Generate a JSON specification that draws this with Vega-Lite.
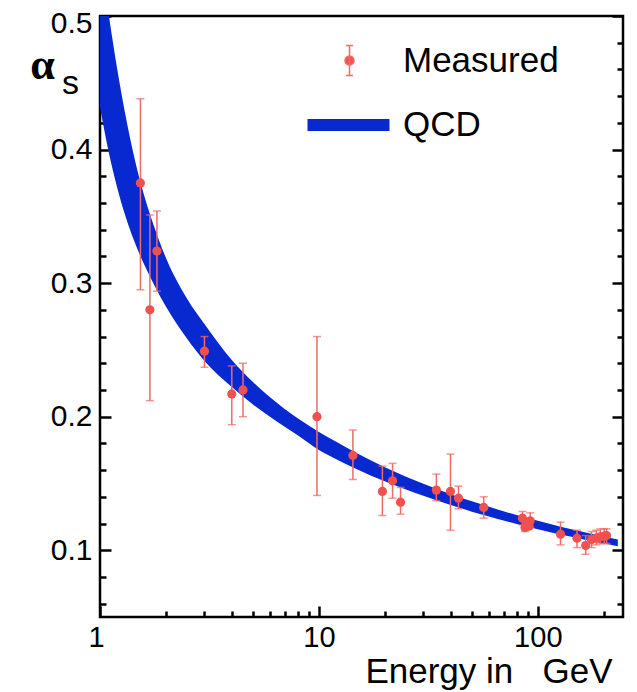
{
  "$schema": "https://vega.github.io/schema/vega-lite/v6.json",
  "width": 523,
  "height": 601,
  "autosize": "none",
  "padding": {"left": 100, "top": 16, "right": 14, "bottom": 75},
  "background": "white",
  "config": {"view": {"stroke": "black", "strokeWidth": 2.5}, "font": "Liberation Sans"},
  "datasets": {
    "band": [
      {"E": 1, "lo": 0.4316, "hi": 0.549},
      {"E": 1.1, "lo": 0.3968, "hi": 0.4995},
      {"E": 1.2, "lo": 0.3711, "hi": 0.4598},
      {"E": 1.3, "lo": 0.3513, "hi": 0.4278},
      {"E": 1.4, "lo": 0.3358, "hi": 0.402},
      {"E": 1.5, "lo": 0.3235, "hi": 0.381},
      {"E": 1.6, "lo": 0.3131, "hi": 0.3642},
      {"E": 1.8, "lo": 0.2962, "hi": 0.3386},
      {"E": 2, "lo": 0.2825, "hi": 0.3189},
      {"E": 2.5, "lo": 0.2583, "hi": 0.2883},
      {"E": 3, "lo": 0.2417, "hi": 0.2693},
      {"E": 4, "lo": 0.2223, "hi": 0.2424},
      {"E": 5, "lo": 0.2092, "hi": 0.2259},
      {"E": 6, "lo": 0.1997, "hi": 0.2144},
      {"E": 8, "lo": 0.186, "hi": 0.1988},
      {"E": 10, "lo": 0.175, "hi": 0.1886},
      {"E": 12, "lo": 0.1682, "hi": 0.1812},
      {"E": 15, "lo": 0.1605, "hi": 0.1724},
      {"E": 20, "lo": 0.1516, "hi": 0.1622},
      {"E": 25, "lo": 0.1454, "hi": 0.1551},
      {"E": 30, "lo": 0.1407, "hi": 0.1498},
      {"E": 40, "lo": 0.1338, "hi": 0.142},
      {"E": 50, "lo": 0.1289, "hi": 0.1366},
      {"E": 65, "lo": 0.1236, "hi": 0.1307},
      {"E": 80, "lo": 0.1197, "hi": 0.1263},
      {"E": 100, "lo": 0.1157, "hi": 0.122},
      {"E": 130, "lo": 0.1114, "hi": 0.1172},
      {"E": 160, "lo": 0.1083, "hi": 0.1138},
      {"E": 200, "lo": 0.105, "hi": 0.1102},
      {"E": 232, "lo": 0.103, "hi": 0.108}
    ],
    "meas": [
      {"E": 1.53, "a": 0.375, "lo": 0.295, "hi": 0.438},
      {"E": 1.69, "a": 0.28, "lo": 0.212, "hi": 0.351},
      {"E": 1.82, "a": 0.324, "lo": 0.294, "hi": 0.354},
      {"E": 3.0, "a": 0.249, "lo": 0.237, "hi": 0.26},
      {"E": 4.0, "a": 0.217, "lo": 0.194, "hi": 0.238},
      {"E": 4.5, "a": 0.22, "lo": 0.2, "hi": 0.24},
      {"E": 9.8, "a": 0.2, "lo": 0.141, "hi": 0.26},
      {"E": 14.3, "a": 0.171, "lo": 0.153, "hi": 0.19},
      {"E": 19.5, "a": 0.144, "lo": 0.126, "hi": 0.163},
      {"E": 21.7, "a": 0.152, "lo": 0.139, "hi": 0.165},
      {"E": 23.6, "a": 0.136, "lo": 0.127, "hi": 0.147},
      {"E": 34.4, "a": 0.145, "lo": 0.137, "hi": 0.157},
      {"E": 39.9, "a": 0.144, "lo": 0.115, "hi": 0.172},
      {"E": 43.4, "a": 0.139, "lo": 0.131, "hi": 0.148},
      {"E": 56.6, "a": 0.132, "lo": 0.124, "hi": 0.14},
      {"E": 85.1, "a": 0.124, "lo": 0.119, "hi": 0.129},
      {"E": 87.4, "a": 0.117, "lo": 0.114, "hi": 0.121},
      {"E": 91.2, "a": 0.118, "lo": 0.116, "hi": 0.121},
      {"E": 92.3, "a": 0.122, "lo": 0.117, "hi": 0.128},
      {"E": 127, "a": 0.112, "lo": 0.104, "hi": 0.121},
      {"E": 151, "a": 0.109, "lo": 0.102, "hi": 0.115},
      {"E": 165.5, "a": 0.1035, "lo": 0.097, "hi": 0.111},
      {"E": 176, "a": 0.108, "lo": 0.102, "hi": 0.114},
      {"E": 185, "a": 0.109, "lo": 0.104, "hi": 0.115},
      {"E": 193, "a": 0.11, "lo": 0.105, "hi": 0.116},
      {"E": 201, "a": 0.1105, "lo": 0.105, "hi": 0.116},
      {"E": 206, "a": 0.111, "lo": 0.105, "hi": 0.116}
    ]
  },
  "layer": [
    {
      "data": {"name": "band"},
      "mark": {"type": "area", "clip": true, "interpolate": "monotone"},
      "encoding": {
        "x": {
          "field": "E", "type": "quantitative",
          "scale": {"type": "log", "domain": [1, 245], "nice": false},
          "axis": {
            "orient": "bottom",
            "values": [1, 2, 3, 4, 5, 6, 7, 8, 9, 10, 20, 30, 40, 50, 60, 70, 80, 90, 100, 200],
            "domain": false, "grid": false,
            "tickColor": "black", "tickWidth": 2.5,
            "tickSize": {"condition": {"test": "datum.value == 1 || datum.value == 10 || datum.value == 100", "value": -11}, "value": -6},
            "labelExpr": "(datum.value == 1 || datum.value == 10 || datum.value == 100) ? format(datum.value, 'd') : ''",
            "labelOffset": {"condition": {"test": "datum.value == 1", "value": -4}, "value": 0},
            "labelFont": "Liberation Sans", "labelFontSize": 29, "labelColor": "black",
            "labelPadding": 17, "labelOverlap": false, "labelFlush": false,
            "title": "Energy in\u00a0\u00a0\u00a0GeV",
            "titleFont": "Liberation Sans", "titleFontSize": 35, "titleFontWeight": "normal", "titleColor": "black",
            "titleX": 512, "titleY": 65, "titleAlign": "right", "titleBaseline": "alphabetic"
          }
        },
        "y": {
          "field": "lo", "type": "quantitative",
          "scale": {"domain": [0.05, 0.5], "nice": false, "zero": false},
          "axis": {
            "orient": "left",
            "values": [0.06, 0.08, 0.1, 0.12, 0.14, 0.16, 0.18, 0.2, 0.22, 0.24, 0.26, 0.28, 0.3, 0.32, 0.34, 0.36, 0.38, 0.4, 0.42, 0.44, 0.46, 0.48, 0.5],
            "domain": false, "grid": false,
            "tickColor": "black", "tickWidth": 2.5,
            "tickSize": {"condition": {"test": "abs(datum.value * 10 - round(datum.value * 10)) < 0.001", "value": -11}, "value": -6},
            "labelExpr": "abs(datum.value * 10 - round(datum.value * 10)) < 0.001 ? format(datum.value, '.1f') : ''",
            "labelFont": "Liberation Sans", "labelFontSize": 30, "labelColor": "black",
            "labelPadding": 19, "labelOverlap": false, "labelFlush": true, "labelFlushOffset": 8,
            "title": "α",
            "titleFont": "Liberation Serif", "titleFontSize": 44, "titleFontWeight": "bold", "titleColor": "black",
            "titleAngle": 0, "titleX": -58, "titleY": 62, "titleAlign": "center", "titleBaseline": "alphabetic"
          }
        },
        "y2": {"field": "hi"},
        "fill": {
          "datum": "QCD",
          "scale": {"range": ["#0828d0"]},
          "legend": {
            "orient": "none", "legendX": 206.5, "legendY": 67, "title": null, "padding": 0,
            "labelFont": "Liberation Sans", "labelFontSize": 35, "labelColor": "black", "labelOffset": 12.5,
            "symbolSize": 6724,
            "encode": {"symbols": {"update": {
              "shape": {"value": "M-1,-0.146H1V0.146H-1Z"},
              "fill": {"value": "#0828d0"}, "stroke": {"value": "transparent"},
              "opacity": {"value": 1}, "size": {"value": 6724}
            }}}
          }
        }
      }
    },
    {
      "data": {"name": "meas"},
      "mark": {"type": "errorbar", "ticks": true, "size": 8, "thickness": 1.5, "color": "#f26a66"},
      "encoding": {
        "x": {"field": "E", "type": "quantitative", "axis": null},
        "y": {"field": "lo", "type": "quantitative", "axis": null},
        "y2": {"field": "hi"}
      }
    },
    {
      "data": {"name": "meas"},
      "mark": {"type": "point", "filled": true, "size": 85, "opacity": 1},
      "encoding": {
        "x": {"field": "E", "type": "quantitative", "axis": null},
        "y": {
          "field": "a", "type": "quantitative",
          "axis": {
            "orient": "right",
            "values": [0.06, 0.08, 0.1, 0.12, 0.14, 0.16, 0.18, 0.2, 0.22, 0.24, 0.26, 0.28, 0.3, 0.32, 0.34, 0.36, 0.38, 0.4, 0.42, 0.44, 0.46, 0.48, 0.5],
            "domain": false, "grid": false, "labels": false,
            "tickColor": "black", "tickWidth": 2.5,
            "tickSize": {"condition": {"test": "abs(datum.value * 10 - round(datum.value * 10)) < 0.001", "value": -11}, "value": -6},
            "title": "s",
            "titleFont": "Liberation Sans", "titleFontSize": 34, "titleFontWeight": "normal", "titleColor": "black",
            "titleAngle": 0, "titleX": -553, "titleY": 77, "titleAlign": "center", "titleBaseline": "alphabetic"
          }
        },
        "color": {
          "datum": "Measured",
          "scale": {"range": ["#f0514f"]},
          "legend": {
            "orient": "none", "legendX": 232, "legendY": 27, "title": null, "padding": 0,
            "labelFont": "Liberation Sans", "labelFontSize": 35, "labelColor": "black", "labelOffset": 36,
            "symbolSize": 900,
            "symbolType": "M0,-1V1M-0.23,-1H0.23M-0.23,1H0.23M-0.3,0A0.3,0.3,0,1,1,0.3,0A0.3,0.3,0,1,1,-0.3,0Z",
            "symbolStrokeColor": "#f26a66", "symbolStrokeWidth": 1.5, "symbolFillColor": "#f0514f",
            "encode": {"symbols": {"update": {
              "shape": {"value": "M0,-1V1M-0.23,-1H0.23M-0.23,1H0.23M-0.3,0A0.3,0.3,0,1,1,0.3,0A0.3,0.3,0,1,1,-0.3,0Z"},
              "fill": {"value": "#f0514f"}, "stroke": {"value": "#f26a66"}, "strokeWidth": {"value": 1.5},
              "opacity": {"value": 1}, "size": {"value": 900}
            }}}
          }
        }
      }
    }
  ],
  "resolve": {"axis": {"x": "independent", "y": "independent"}}
}
